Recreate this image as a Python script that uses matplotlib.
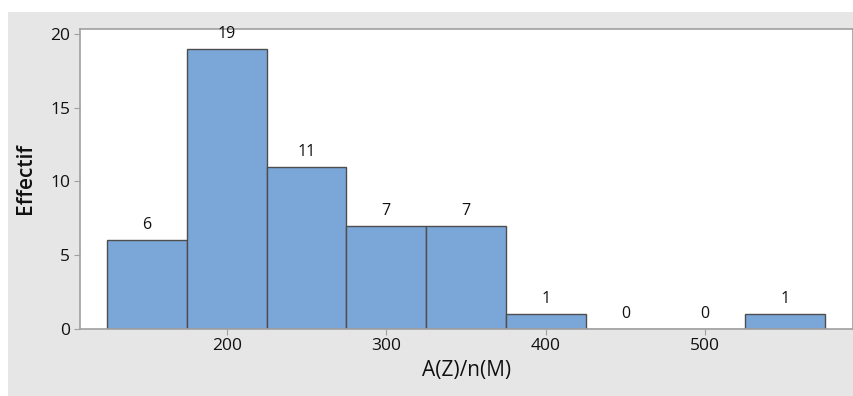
import matplotlib.pyplot as plt
from matplotlib.patches import Rectangle

# histogram bins (A(Z)/n(M)) and counts
bin_edges = [125, 175, 225, 275, 325, 375, 425, 475, 525, 575]
counts = [6, 19, 11, 7, 7, 1, 0, 0, 1]
xticks = [200, 300, 400, 500]
yticks = [0, 5, 10, 15, 20]

plt.rcParams["font.family"] = ["Open Sans", "DejaVu Sans"]

W, H = 854, 396
fig = plt.figure(figsize=(W / 100, H / 100), dpi=100, facecolor="white")
bg = Rectangle((8 / W, 0), 1 - 8 / W, 1 - 12 / H, transform=fig.transFigure,
               facecolor="#e6e6e6", edgecolor="none", zorder=-10)
fig.add_artist(bg)

ax = fig.add_axes([80 / W, (H - 328.7) / H, (852.7 - 80) / W, (328.7 - 29) / H])
ax.set_zorder(1)
ax.set_facecolor("white")

lefts = bin_edges[:-1]
widths = [b - a for a, b in zip(bin_edges[:-1], bin_edges[1:])]
bars = ax.bar(lefts, counts, width=widths, align="edge", color="#7ba7d8",
              edgecolor="#4d4d4d", linewidth=1.0, zorder=2)

for x, w, c in zip(lefts, widths, counts):
    ax.annotate(str(c), (x + w / 2, c), xytext=(0, 5), textcoords="offset points",
                ha="center", va="bottom", fontsize=11.5, color="#111111")

ax.set_xlim(108, 592.5)
ax.set_ylim(0, 20.34)
ax.set_xticks(xticks)
ax.set_yticks(yticks)
ax.tick_params(axis="both", direction="out", length=4, color="#a0a0a0",
               labelsize=12.5, labelcolor="#111111", pad=3)

for side in ["left", "bottom", "right", "top"]:
    ax.spines[side].set_color("#a0a0a0")
    ax.spines[side].set_linewidth(1.2)

ax.set_xlabel("A(Z)/n(M)", fontsize=15, color="#111111", labelpad=4)
ax.set_ylabel("Effectif", fontsize=15, fontweight="semibold", color="#111111", labelpad=10)

fig.savefig("out.png", dpi=100, facecolor=fig.get_facecolor())
